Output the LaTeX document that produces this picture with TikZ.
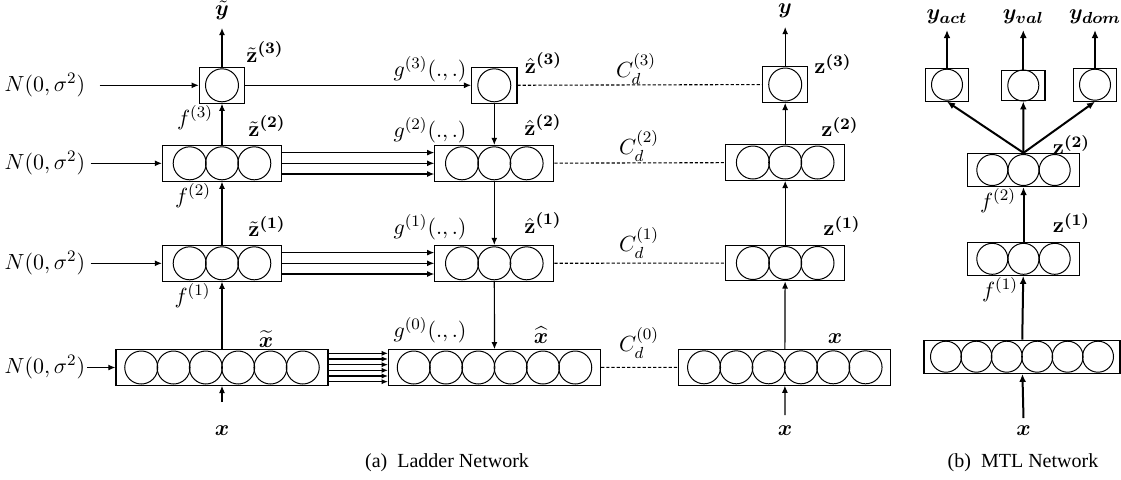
\documentclass[tikz,border=0pt]{standalone}
\usepackage{amsmath,bm}
\usepackage{fontspec}
\newfontfamily\capfont{Liberation Serif}
\usetikzlibrary{arrows.meta,calc}
\newcommand\mklayer[7]{%
  \node[boxst, minimum width=#5, minimum height=#6] (#1) at (#2) {};
  \foreach \i in {1,...,#3} {
    \node[circst, minimum size=#7] (#1-\i) at ($(#1)+({(\i-(#3+1)/2)*#4},0)$) {};
  }%
}
\begin{document}
\begin{tikzpicture}[x=0.5pt,y=-0.5pt,
  boxst/.style={draw, rectangle, inner sep=0pt, line width=0.55pt},
  circst/.style={draw, circle, inner sep=0pt, line width=0.5pt},
  arr/.style={-{Latex[length=3.6pt,width=3pt]}, line width=0.6pt},
  tarr/.style={-{Latex[length=4pt,width=3.4pt]}, line width=1pt},
  dsh/.style={dash pattern=on 1.6pt off 1pt, line width=0.55pt},
  lab/.style={inner sep=0pt, font=\fontsize{11}{13}\selectfont},
  captext/.style={inner sep=0pt, font=\capfont\fontsize{10}{12}\selectfont}]
\useasboundingbox (0,0) rectangle (1121,479);

% ---------------- Ladder: left (corrupted) column
\mklayer{L3}{222,85.3}{1}{32.3}{22.65pt}{17.75pt}{16.5pt}
\mklayer{L2}{222,163.3}{3}{32.3}{59.5pt}{17.75pt}{16.5pt}
\mklayer{L1}{222,263.3}{3}{32.3}{59.5pt}{17.75pt}{16.5pt}
\mklayer{L0}{222,367.5}{6}{32.3}{106pt}{17.75pt}{16.5pt}

% ---------------- Ladder: middle (decoder) column
\mklayer{M3}{494.3,85.3}{1}{32.3}{22.65pt}{17.75pt}{16.5pt}
\mklayer{M2}{494.3,163.3}{3}{32.3}{59.5pt}{17.75pt}{16.5pt}
\mklayer{M1}{494.3,263.3}{3}{32.3}{59.5pt}{17.75pt}{16.5pt}
\mklayer{M0}{494.5,367.5}{6}{32.3}{106pt}{17.75pt}{16.5pt}

% ---------------- Ladder: right (clean) column
\mklayer{R3}{785.2,84.5}{1}{32.3}{22.65pt}{17.75pt}{16.5pt}
\mklayer{R2}{785.2,162.5}{3}{32.3}{59.5pt}{17.75pt}{16.5pt}
\mklayer{R1}{785.2,263}{3}{32.3}{59.5pt}{17.75pt}{16.5pt}
\mklayer{R0}{784.8,367.3}{6}{32.3}{106pt}{17.75pt}{16.5pt}

% ---------------- MTL network
\mklayer{H1}{947,84.7}{1}{31}{21.7pt}{16.35pt}{15.5pt}
\mklayer{H2}{1023.3,85.5}{1}{31}{21.7pt}{15.3pt}{15.5pt}
\mklayer{H3}{1095,84.7}{1}{31}{21.7pt}{16.35pt}{15.5pt}
\mklayer{T2}{1023.5,170}{3}{31.2}{56pt}{16.6pt}{15.5pt}
\mklayer{T1}{1023.5,258.8}{3}{31.2}{56pt}{16.5pt}{15.5pt}
\mklayer{T0}{1022,356.7}{6}{30.4}{98pt}{16.6pt}{15.5pt}

% ---------------- labels (ladder left)
\node[lab] (ytl) at (222,10.5) {$\bm{\tilde{y}}$};
\coordinate (ytl-tip) at (222,28);
\node[lab] (zt3) at (265,52) {$\bm{\tilde{\mathbf{z}}^{(3)}}$};
\node[lab] (f3) at (195,118) {$f^{(3)}$};
\node[lab] (zt2) at (267,126) {$\bm{\tilde{\mathbf{z}}^{(2)}}$};
\node[lab] (f2) at (193,196) {$f^{(2)}$};
\node[lab] (zt1) at (267,226.5) {$\bm{\tilde{\mathbf{z}}^{(1)}}$};
\node[lab] (f1) at (192.5,296) {$f^{(1)}$};
\node[lab] (xt) at (266,339) {$\bm{\widetilde{x}}$};
\node[lab] (xL) at (222,431) {$\bm{x}$};
\coordinate (xL-s) at (222,402);

\node[lab] (N3) at (45,85.3) {$N(0,\sigma^2)$};
\node[lab] (N2) at (45,163.3) {$N(0,\sigma^2)$};
\node[lab] (N1) at (45,263.3) {$N(0,\sigma^2)$};
\node[lab] (N0) at (45,367.5) {$N(0,\sigma^2)$};

% ---------------- labels (ladder middle)
\node[lab] (g3) at (430,69) {$g^{(3)}(.,.)$};
\node[lab] (zh3) at (543.5,63) {$\bm{\hat{\mathbf{z}}^{(3)}}$};
\node[lab] (g2) at (430,130) {$g^{(2)}(.,.)$};
\node[lab] (zh2) at (543,125) {$\bm{\hat{\mathbf{z}}^{(2)}}$};
\node[lab] (g1) at (430,227) {$g^{(1)}(.,.)$};
\node[lab] (zh1) at (543,223) {$\bm{\hat{\mathbf{z}}^{(1)}}$};
\node[lab] (g0) at (430,330) {$g^{(0)}(.,.)$};
\node[lab] (xh) at (541,335) {$\bm{\widehat{x}}$};

\node[lab] (C3) at (636,69) {$C_d^{(3)}$};
\node[lab] (C2) at (639,146) {$C_d^{(2)}$};
\node[lab] (C1) at (639,243) {$C_d^{(1)}$};
\node[lab] (C0) at (639,343) {$C_d^{(0)}$};

% ---------------- labels (ladder right)
\node[lab] (yR) at (785,11) {$\bm{y}$};
\coordinate (yR-tip) at (785.2,27);
\node[lab] (z3) at (833,64) {$\bm{\mathbf{z}^{(3)}}$};
\node[lab] (z2) at (840,127) {$\bm{\mathbf{z}^{(2)}}$};
\node[lab] (z1) at (842,226) {$\bm{\mathbf{z}^{(1)}}$};
\node[lab] (xR) at (835,339) {$\bm{x}$};
\node[lab] (xRb) at (785,431) {$\bm{x}$};
\coordinate (xR-s) at (785,415);

% ---------------- labels (MTL)
\node[lab] (yact) at (947,17) {$\bm{y_{act}}$};
\node[lab] (yval) at (1023.3,17) {$\bm{y_{val}}$};
\node[lab] (ydom) at (1095,17) {$\bm{y_{dom}}$};
\coordinate (yact-t) at (947,30);
\coordinate (yval-t) at (1023.3,30);
\coordinate (ydom-t) at (1095,30);
\node[lab] (mz2) at (1071.5,145) {$\bm{\mathbf{z}^{(2)}}$};
\node[lab] (mf2) at (998,201) {$f^{(2)}$};
\node[lab] (mz1) at (1071.5,223) {$\bm{\mathbf{z}^{(1)}}$};
\node[lab] (mf1) at (1000,290) {$f^{(1)}$};
\node[lab] (mx) at (1023.5,431) {$\bm{x}$};
\coordinate (mx-s) at (1023.5,418);

% ---------------- captions
\node[captext] (capa) at (447,463) {(a)\enspace Ladder Network};
\node[captext] (capb) at (1023,463) {(b)\enspace MTL Network};

% ---------------- connectors: left column
\draw[arr] (xL-s) -- (L0);
\draw[arr] (L0) -- (L1);
\draw[arr] (L1) -- (L2);
\draw[arr] (L2) -- (L3);
\draw[arr] (L3) -- (ytl-tip);
\draw[arr, shorten <=7pt] (N3) -- (L3);
\draw[arr, shorten <=2.5pt] (N2) -- (L2);
\draw[arr, shorten <=2.5pt] (N1) -- (L1);
\draw[arr, shorten <=0.8pt] (N0) -- (L0);

% lateral connections
\draw[arr] (L3) -- (M3);
\foreach \s in {-5.35,0,5.35} {
  \draw[arr] ([yshift=\s pt]L2.east) -- ([yshift=\s pt]M2.west);
  \draw[arr] ([yshift=\s pt]L1.east) -- ([yshift=\s pt]M1.west);
}
\foreach \s in {-7.08,-4.25,-1.42,1.42,4.25,7.08} {
  \draw[-{Latex[length=3.2pt,width=2.6pt]}, line width=0.55pt] ([yshift=\s pt]L0.east) -- ([yshift=\s pt]M0.west);
}

% decoder
\draw[arr] (M3) -- (M2);
\draw[arr] (M2) -- (M1);
\draw[arr] (M1) -- (M0);

% costs
\draw[dsh] (M3) -- (R3);
\draw[dsh] (M2) -- (R2);
\draw[dsh] (M1) -- (R1);
\draw[dsh] (M0) -- (R0);

% right column
\draw[arr] (xR-s) -- (R0);
\draw[arr] (R0) -- (R1);
\draw[arr] (R1) -- (R2);
\draw[arr] (R2) -- (R3);
\draw[arr] (R3) -- (yR-tip);

% ---------------- connectors: MTL
\draw[tarr] (mx-s) -- (T0);
\draw[tarr] (T0) -- (T1);
\draw[tarr] (T1) -- (T2);
\draw[tarr] (T2.north) -- (H1.south);
\draw[tarr] (T2.north) -- (H2.south);
\draw[tarr] (T2.north) -- (H3.south);
\draw[tarr] (H1) -- (yact-t);
\draw[tarr] (H2) -- (yval-t);
\draw[tarr] (H3) -- (ydom-t);
\end{tikzpicture}
\end{document}
